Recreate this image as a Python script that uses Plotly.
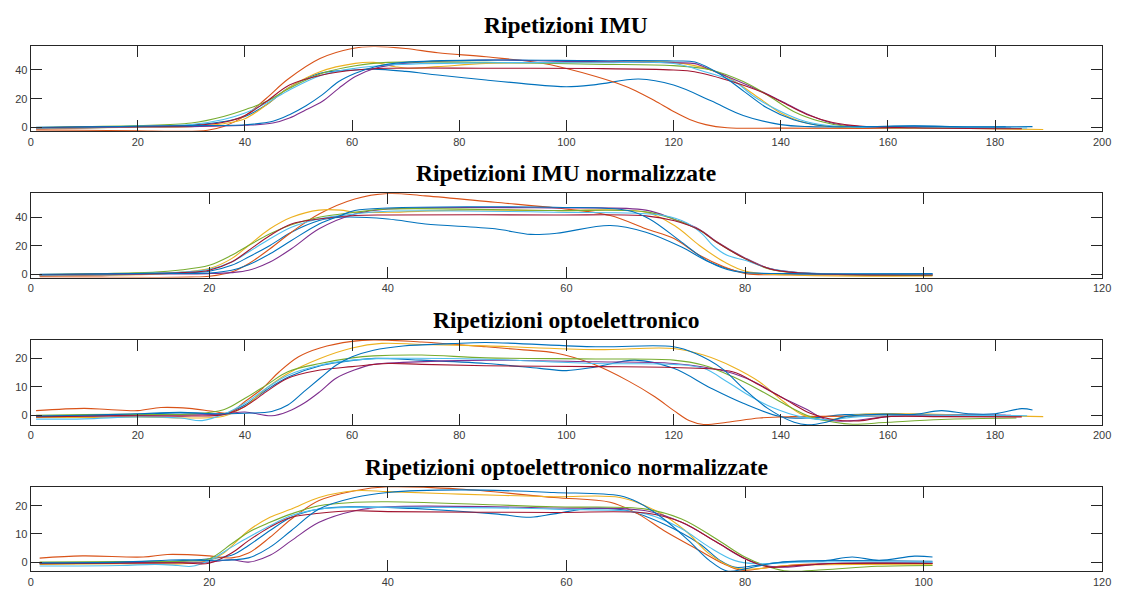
import plotly.graph_objects as go

# ---------------------------------------------------------------------------
# Repetition curves (knots of each smooth trace)
# ---------------------------------------------------------------------------
TITLES = [
    "Ripetizioni IMU",
    "Ripetizioni IMU normalizzate",
    "Ripetizioni optoelettronico",
    "Ripetizioni optoelettronico normalizzate",
]

# MATLAB default colour order, one per repetition
REP_NAMES = ["rip1", "rip2", "rip3", "rip4", "rip5", "rip6", "rip7", "rip8"]
REP_COLORS = ["#0072BD", "#D95319", "#EDB120", "#7E2F8E",
              "#77AC30", "#4DBEEE", "#A2142F", "#0072BD"]

# --- IMU, raw samples -------------------------------------------------------
imu_r1_x = [1, 10, 20, 30, 36, 40, 44, 48, 54, 60.6, 64, 70, 76, 85, 92, 100, 105.5, 113.5, 120, 127, 133, 140, 145.4, 155, 165, 175, 182]
imu_r1_y = [-1.0, -0.5, 0.3, 1.5, 4.0, 7.6, 15.7, 27.2, 37.7, 40.0, 40.6, 39.0, 36.5, 33.0, 30.5, 28.3, 29.8, 33.7, 29.5, 18.5, 8.3, 1.9, 0.5, 0.3, 0.8, 0.2, 0.3]
imu_r2_x = [1, 10, 20, 28, 33, 36, 40, 44, 48, 54, 60, 64, 70, 76, 85, 95, 100, 105.5, 110, 113, 116.5, 120, 123, 126, 130, 140, 160, 185]
imu_r2_y = [-1.8, -2.0, -2.5, -2.8, -2.0, 0.5, 8.0, 20.3, 33.5, 48.0, 55.0, 56.4, 55.0, 52.0, 49.2, 45.0, 41.0, 35.4, 30.0, 25.4, 18.5, 11.1, 5.5, 1.9, -0.3, -0.6, -0.8, -0.8]
imu_r3_x = [1, 10, 20, 30, 36, 40, 44, 48, 54, 60.6, 64, 68, 70.4, 76, 85, 100, 110, 120, 127, 131, 136, 140, 143.6, 148.5, 160, 175, 189]
imu_r3_y = [-0.8, -0.5, 0.0, 0.5, 2.5, 6.0, 15.7, 27.2, 38.8, 44.6, 45.3, 42.3, 41.2, 42.3, 44.6, 45.0, 45.5, 45.3, 40.0, 33.0, 20.3, 10.0, 4.2, 0.7, -0.2, -0.8, -1.5]
imu_r4_x = [1, 10, 20, 30, 40, 45.2, 48.3, 51.4, 54.4, 57.5, 60.6, 64.3, 69.8, 85, 100, 120, 124, 127, 130, 135, 140, 144.8, 149.7, 154.7, 165, 183]
imu_r4_y = [-0.5, -0.3, 0.2, 0.5, 1.4, 3.0, 6.5, 12.3, 18.0, 27.2, 35.4, 41.2, 44.6, 46.9, 46.0, 45.0, 44.4, 40.0, 35.5, 27.5, 18.5, 9.5, 2.8, 0.6, 0.0, -0.5]
imu_r5_x = [1, 10, 20, 30, 36, 40, 44, 48.3, 54.4, 60.6, 66.7, 85, 105, 120, 127, 133, 137.5, 142.4, 147.3, 152.2, 160, 184]
imu_r5_y = [-0.2, 0.5, 1.2, 3.0, 7.6, 12.3, 18.0, 27.2, 37.7, 43.0, 45.3, 45.3, 44.0, 43.0, 40.0, 31.9, 22.6, 11.1, 4.2, 0.7, 0.0, -0.8]
imu_r6_x = [1, 10, 20, 30, 36, 40, 44, 48.3, 54.4, 60.6, 66.7, 85, 105, 120, 125.8, 131.3, 135, 138.7, 143.6, 148.5, 154.7, 170, 186]
imu_r6_y = [-0.6, 0.0, 0.8, 2.0, 5.5, 10.0, 16.9, 26.1, 36.5, 41.2, 43.5, 45.0, 45.0, 44.5, 38.8, 31.9, 21.5, 13.4, 5.3, 1.4, 0.0, -0.3, -0.5]
imu_r7_x = [1, 10, 20, 30, 36, 40, 44, 48.3, 54.4, 60.6, 66.7, 85, 105, 120, 123.9, 131.3, 136.2, 141.2, 145.4, 149.7, 154.7, 165, 185]
imu_r7_y = [-0.3, 0.2, 0.6, 1.2, 3.5, 8.3, 18.0, 29.5, 36.5, 40.0, 41.2, 41.2, 41.0, 40.0, 38.8, 31.5, 25.0, 15.8, 8.2, 3.3, 0.8, -0.3, -1.0]
imu_r8_x = [1, 10, 20, 30, 40, 45.2, 48.3, 51.4, 54.4, 57.5, 60.6, 64.3, 69.8, 85, 105, 120, 124, 128.9, 133.2, 137.5, 142.4, 148.5, 155, 165, 175, 187]
imu_r8_y = [0.0, 0.3, 0.7, 1.2, 1.8, 4.2, 8.8, 15.0, 22.6, 31.9, 37.7, 42.3, 45.3, 46.9, 46.5, 46.3, 45.5, 36.5, 24.9, 13.4, 5.3, 0.7, 0.5, 1.0, 0.3, 0.5]

# --- IMU, time-normalised ---------------------------------------------------
imun_r1_x = [1, 8, 14, 20, 22.5, 24.4, 26.8, 29.2, 32.3, 34.7, 40, 44.2, 52, 56, 58.9, 64.9, 68.9, 72.9, 76, 79.6, 82.8, 90, 101]
imun_r1_y = [-1.0, -0.5, 0.3, 2.1, 6.3, 12.1, 20.2, 29.5, 37.7, 40.0, 38.8, 35.3, 31.9, 28.0, 28.8, 34.2, 29.5, 19.1, 8.6, 1.6, 0.5, 0.3, 0.3]
imun_r2_x = [1, 8, 14, 18, 20, 22.5, 24.4, 26.8, 29.2, 32.3, 36.3, 40, 44.2, 52, 58.9, 64.9, 68.9, 72.1, 74.9, 77.7, 80.1, 85, 101]
imun_r2_y = [-1.8, -2.0, -2.2, -2.0, -1.4, 1.6, 7.4, 17.9, 29.5, 42.3, 52.8, 56.7, 55.0, 50.5, 46.5, 41.2, 31.9, 24.9, 13.3, 5.1, 0.5, -0.3, -0.5]
imun_r3_x = [1, 8, 14, 17, 20, 22.5, 24.4, 26.8, 29.2, 32.3, 34.7, 36.3, 40, 48, 58.6, 68.9, 72.1, 74.9, 77.7, 80.1, 85, 101]
imun_r3_y = [-0.8, -0.5, 0.0, 1.5, 4.0, 11.0, 20.2, 31.9, 40.0, 45.0, 45.0, 43.5, 43.5, 45.0, 44.7, 43.5, 34.2, 20.2, 8.6, 2.1, -0.5, -1.2]
imun_r4_x = [1, 8, 14, 20, 22.5, 24.4, 26.8, 29.2, 32.3, 36.3, 40, 58.6, 68.9, 72.1, 74.9, 76.8, 80, 82.8, 86, 101]
imun_r4_y = [-0.5, -0.3, 0.2, 0.5, 1.2, 2.8, 8.6, 17.9, 31.9, 42.3, 45.8, 46.5, 45.0, 38.5, 31.5, 23.0, 11.5, 4.0, 1.2, -0.3]
imun_r5_x = [1, 8, 14, 16.5, 20, 22.5, 24.4, 26.8, 29.2, 32.3, 36.3, 40, 58.6, 68.9, 72.1, 74.9, 76.8, 80, 82.8, 86, 101]
imun_r5_y = [-0.2, 0.5, 1.5, 2.8, 6.3, 13.3, 20.2, 28.4, 34.7, 40.0, 43.5, 45.8, 44.7, 43.8, 38.5, 31.0, 22.6, 11.0, 3.5, 1.0, -0.8]
imun_r6_x = [1, 8, 14, 17, 20, 22.5, 24.4, 26.8, 29.2, 32.3, 36.3, 40, 58.6, 70.9, 73.5, 75.2, 76.4, 78, 80, 82.8, 86, 95, 101]
imun_r6_y = [-0.6, 0.0, 0.8, 1.5, 3.5, 8.6, 15.6, 24.9, 33.0, 38.8, 42.3, 44.2, 43.5, 41.2, 36.0, 28.4, 20.2, 13.3, 9.8, 4.0, 1.2, 0.2, 0.0]
imun_r7_x = [1, 8, 14, 17, 20, 22.5, 24.4, 26.8, 29.2, 32.3, 36.3, 40, 58.6, 68.9, 72.1, 74.9, 76.8, 80, 82.8, 86, 101]
imun_r7_y = [-0.3, 0.2, 0.6, 1.2, 2.8, 8.6, 16.7, 27.2, 35.3, 38.8, 41.2, 41.6, 41.6, 41.0, 37.5, 31.0, 22.6, 11.0, 3.8, 1.0, -0.5]
imun_r8_x = [1, 8, 14, 20, 22.5, 24.4, 26.8, 29.2, 32.3, 34.7, 36.3, 40, 58.6, 66.9, 69.3, 72.9, 76, 78.8, 85, 101]
imun_r8_y = [0.0, 0.3, 0.7, 0.9, 2.8, 6.7, 14.4, 23.7, 35.3, 41.2, 44.7, 46.5, 47.0, 44.7, 38.8, 22.6, 8.6, 2.1, 0.5, 0.5]

# --- Optoelectronic, raw samples -------------------------------------------
opt_r1_x = [1, 10, 20, 27, 32, 36, 40, 44, 48.3, 54.4, 60.6, 64.3, 72.9, 85, 95, 100, 105.5, 112.8, 120, 127, 133, 140, 145.4, 152, 160, 182]
opt_r1_y = [-0.5, -0.3, 0.3, 0.8, 0.7, 0.5, 3.6, 8.9, 13.6, 17.6, 19.4, 20.0, 19.4, 18.2, 16.5, 15.7, 17.0, 19.4, 16.5, 9.5, 4.2, -0.5, -1.0, 0.2, 0.3, 0.0]
opt_r2_x = [1, 10, 14.4, 20, 24.3, 29.6, 34.2, 37, 40, 43.3, 46.4, 50, 54, 60, 64, 73, 85, 92, 98, 105, 111.6, 116.5, 120, 123, 125.6, 130, 136, 142, 160, 185]
opt_r2_y = [1.6, 2.4, 2.0, 1.6, 2.7, 2.4, 1.3, 0.8, 4.8, 9.5, 15.3, 20.6, 23.7, 26.0, 26.5, 25.8, 24.1, 23.0, 21.9, 18.0, 12.0, 6.5, 1.7, -2.0, -3.3, -2.5, -1.0, -0.5, -0.3, -0.3]
opt_r3_x = [1, 10, 20, 30, 36, 40, 44, 48, 54, 60, 65.5, 73, 85, 105.5, 120, 125.6, 131, 136, 140.5, 144, 148.5, 154.6, 165, 175, 189]
opt_r3_y = [-0.8, -0.8, -0.6, -1.0, -0.4, 3.1, 9.5, 14.7, 20.0, 23.7, 25.3, 24.9, 24.4, 23.1, 23.5, 21.2, 17.1, 11.8, 4.8, 0.2, -1.6, 0.2, 0.5, 0.0, -0.5]
opt_r4_x = [1, 10, 20, 30, 36, 40, 45, 48, 51, 54, 57, 60.4, 64, 69.5, 85, 105.5, 120, 130, 135, 140, 145, 148.5, 153, 160, 170, 183]
opt_r4_y = [-0.3, -0.2, 0.0, 0.1, 0.4, 1.1, -0.2, 1.3, 4.2, 8.3, 13.0, 15.9, 17.9, 18.6, 19.4, 18.8, 18.2, 15.3, 11.8, 6.5, 1.9, -1.6, -2.0, -0.5, 0.0, 0.0]
opt_r5_x = [1, 10, 20, 30, 36, 40, 44, 48, 54, 60, 64, 73, 85, 105.5, 120, 125.6, 131, 136, 141, 145.5, 150, 153.4, 160, 170, 184]
opt_r5_y = [0.0, 0.2, 0.3, 0.4, 1.9, 6.0, 10.6, 15.3, 18.2, 20.2, 20.9, 21.2, 20.2, 19.8, 19.4, 17.6, 13.6, 8.9, 3.6, -0.5, -2.5, -3.2, -2.5, -1.5, -1.0]
opt_r6_x = [1, 10, 20, 28, 32, 36, 40, 44, 48, 54, 60, 66.7, 85, 105.5, 120, 125.6, 130, 134.5, 138.7, 143.6, 148.5, 154.7, 165, 186]
opt_r6_y = [-1.4, -1.3, -0.6, -1.0, -1.9, 0.3, 4.2, 9.5, 14.1, 17.6, 19.4, 20.0, 19.7, 18.2, 17.9, 16.5, 11.8, 6.5, 2.5, -0.5, -1.6, -0.5, 0.0, -0.2]
opt_r7_x = [1, 10, 20, 30, 36, 40, 44, 48, 54, 60, 66.7, 73, 85, 105.5, 120, 131, 136, 141, 145.5, 150, 154.6, 160, 170, 185]
opt_r7_y = [-0.6, -0.4, -0.2, -0.3, 0.2, 3.1, 8.3, 13.0, 15.9, 17.1, 18.2, 17.9, 17.4, 17.1, 16.8, 15.3, 10.6, 5.4, 0.7, -1.6, -2.0, -0.5, -0.5, -0.6]
opt_r8_x = [1, 10, 20, 28, 34, 40, 45, 48, 51, 54, 57, 60, 64, 69.5, 78.5, 85, 105.5, 120, 124, 129, 133, 137.5, 142.5, 145, 148.5, 152, 160, 165, 170, 175, 180, 185, 187]
opt_r8_y = [-0.3, 0.0, 0.5, 1.0, 0.5, 0.7, 1.3, 3.6, 8.3, 13.0, 17.6, 20.6, 22.9, 24.4, 25.2, 25.6, 24.1, 24.1, 21.8, 16.5, 9.5, 2.5, -2.5, -3.4, -2.5, -0.5, 0.4, 0.3, 1.6, 0.5, 0.5, 2.3, 1.8]

# --- Optoelectronic, time-normalised ---------------------------------------
optn_r1_x = [1, 10, 17, 20, 22.5, 24.4, 26.8, 29.2, 32.3, 36.3, 40, 52, 56, 58.6, 62.9, 66.9, 70.9, 74.9, 77.2, 78.8, 81.2, 84.8, 101]
optn_r1_y = [-0.5, -0.3, 0.5, 1.2, 2.4, 5.9, 11.2, 15.9, 18.8, 19.6, 19.4, 17.1, 15.9, 17.1, 19.1, 18.2, 13.5, 6.5, 0.6, -1.8, -1.2, 0.2, 0.3]
optn_r2_x = [1, 5.8, 12.6, 15.3, 20, 22.5, 24.4, 26.8, 29.2, 32.3, 36.3, 40, 48, 58.6, 64.9, 68, 70.9, 74.9, 77.6, 79.6, 82.8, 86.8, 101]
optn_r2_y = [1.4, 2.2, 1.8, 2.7, 2.2, 1.5, 3.2, 8.8, 15.3, 21.8, 25.3, 26.7, 25.9, 22.9, 21.2, 17.1, 11.2, 4.1, -0.6, -2.9, -1.8, -0.8, -0.5]
optn_r3_x = [1, 10, 17, 20, 21.5, 24.4, 26.8, 29.2, 32.3, 36.3, 40, 48, 58.6, 66, 70, 73.3, 76, 78.8, 81.2, 84.8, 101]
optn_r3_y = [-0.8, -0.6, -0.6, 0.6, 2.9, 11.2, 15.9, 18.8, 22.9, 25.3, 25.0, 24.1, 23.2, 22.9, 18.2, 11.2, 2.9, -2.0, -2.4, -1.2, -1.0]
optn_r4_x = [1, 10, 17, 20, 22.5, 24.4, 26.8, 29.2, 32.3, 36.3, 40, 58.6, 68.9, 72.9, 76.8, 80, 82.8, 84.8, 88.8, 101]
optn_r4_y = [-0.3, -0.2, 0.0, 0.0, 0.8, 0.0, 2.4, 7.6, 14.1, 18.2, 19.6, 19.2, 18.2, 14.1, 7.1, 1.2, -1.5, -1.8, -0.6, -0.3]
optn_r5_x = [1, 10, 17, 20, 22.5, 24.4, 26.8, 29.2, 32.3, 36.3, 40, 58.6, 68.9, 72.9, 76.8, 80, 82.8, 84.8, 88.8, 94.8, 101]
optn_r5_y = [0.0, 0.2, 0.3, 1.2, 6.5, 10.6, 14.1, 17.1, 20.0, 21.2, 21.4, 19.6, 18.8, 15.3, 8.2, 1.8, -1.8, -3.2, -2.7, -1.5, -1.2]
optn_r6_x = [1, 10, 14, 16.5, 18, 20, 22.5, 24.4, 26.8, 29.2, 32.3, 36.3, 58.6, 68.9, 72.9, 76, 78.8, 81.2, 86, 101]
optn_r6_y = [-1.4, -1.2, -0.8, -1.2, -1.5, 0.6, 5.3, 8.8, 12.9, 16.5, 18.8, 19.4, 18.8, 17.1, 11.8, 5.3, 0.6, -0.6, 0.0, 0.0]
optn_r7_x = [1, 10, 17, 20, 22.5, 24.4, 26.8, 29.2, 32.3, 36.3, 40, 58.6, 68.9, 72.9, 76.8, 80.4, 82.8, 84.8, 90, 101]
optn_r7_y = [-0.6, -0.4, -0.3, -0.4, 3.2, 7.6, 12.4, 15.9, 17.3, 18.2, 17.9, 17.6, 17.4, 14.1, 7.1, 0.6, -1.8, -1.5, -0.5, -0.5]
optn_r8_x = [1, 10, 17, 20, 24.4, 26.8, 29.2, 32.3, 36.3, 40, 48, 58.6, 66, 68, 70.9, 73.7, 76, 78, 80, 82.8, 86, 89, 92, 95, 99, 101]
optn_r8_y = [-0.3, 0.0, 0.8, 0.6, 1.5, 5.3, 11.2, 18.8, 22.9, 24.7, 25.6, 24.7, 23.5, 21.2, 15.3, 7.6, 0.6, -3.2, -2.4, -0.6, 0.3, 0.5, 1.8, 0.6, 2.1, 1.8]

PANELS = [
    [(imu_r1_x, imu_r1_y), (imu_r2_x, imu_r2_y), (imu_r3_x, imu_r3_y), (imu_r4_x, imu_r4_y),
     (imu_r5_x, imu_r5_y), (imu_r6_x, imu_r6_y), (imu_r7_x, imu_r7_y), (imu_r8_x, imu_r8_y)],
    [(imun_r1_x, imun_r1_y), (imun_r2_x, imun_r2_y), (imun_r3_x, imun_r3_y), (imun_r4_x, imun_r4_y),
     (imun_r5_x, imun_r5_y), (imun_r6_x, imun_r6_y), (imun_r7_x, imun_r7_y), (imun_r8_x, imun_r8_y)],
    [(opt_r1_x, opt_r1_y), (opt_r2_x, opt_r2_y), (opt_r3_x, opt_r3_y), (opt_r4_x, opt_r4_y),
     (opt_r5_x, opt_r5_y), (opt_r6_x, opt_r6_y), (opt_r7_x, opt_r7_y), (opt_r8_x, opt_r8_y)],
    [(optn_r1_x, optn_r1_y), (optn_r2_x, optn_r2_y), (optn_r3_x, optn_r3_y), (optn_r4_x, optn_r4_y),
     (optn_r5_x, optn_r5_y), (optn_r6_x, optn_r6_y), (optn_r7_x, optn_r7_y), (optn_r8_x, optn_r8_y)],
]

X_RANGES = [[0, 200], [0, 120], [0, 200], [0, 120]]
Y_RANGES = [[-2.8, 56.4], [-2.3, 56.8], [-3.5, 26.5], [-3.3, 26.7]]
Y_TICKS = [[0, 20, 40], [0, 20, 40], [0, 10, 20], [0, 10, 20]]

# ---------------------------------------------------------------------------
# Layout geometry (pixels of a 1125 x 590 page)
# ---------------------------------------------------------------------------
W, H = 1125, 590
AX_LEFT, AX_RIGHT = 28, 1111
AX_TOPS = [46.7, 194.3, 341.7, 489.3]
AX_BOTTOMS = [132.0, 279.0, 427.3, 574.3]
TITLE_Y = [25, 174, 321.5, 469]

AXIS_COLOR = "#262626"
TICK_FONT = dict(family="Liberation Sans, Arial, sans-serif", size=11, color="#3a3a3a")

fig = go.Figure()
layout = dict(
    width=W, height=H,
    margin=dict(l=0, r=0, t=0, b=0),
    paper_bgcolor="white", plot_bgcolor="white",
    showlegend=False,
    annotations=[],
)

for i, series in enumerate(PANELS):
    n = "" if i == 0 else str(i + 1)
    xa, ya = "x" + n, "y" + n
    for (xs, ys), name, color in zip(series, REP_NAMES, REP_COLORS):
        fig.add_trace(go.Scatter(
            x=xs, y=ys, mode="lines", name=name,
            line=dict(color=color, width=1.1, shape="spline", smoothing=1.0),
            xaxis=xa, yaxis=ya, hoverinfo="skip",
        ))
    dx = X_RANGES[i][1]
    layout["xaxis" + n] = dict(
        domain=[AX_LEFT / W, AX_RIGHT / W],
        range=X_RANGES[i],
        tickvals=list(range(0, dx + 1, 20)),
        ticks="inside", ticklen=11, tickwidth=1, tickcolor=AXIS_COLOR,
        showline=True, linecolor=AXIS_COLOR, linewidth=1, mirror="ticks",
        showgrid=False, zeroline=False, tickfont=TICK_FONT,
        anchor=ya, fixedrange=True,
    )
    layout["yaxis" + n] = dict(
        domain=[1 - AX_BOTTOMS[i] / H, 1 - AX_TOPS[i] / H],
        range=Y_RANGES[i],
        tickvals=Y_TICKS[i],
        ticks="inside", ticklen=11, tickwidth=1, tickcolor=AXIS_COLOR,
        showline=True, linecolor=AXIS_COLOR, linewidth=1, mirror="ticks",
        showgrid=False, zeroline=False, tickfont=TICK_FONT,
        anchor=xa, fixedrange=True,
    )
    layout["annotations"].append(dict(
        text="<b>%s</b>" % TITLES[i],
        xref="paper", yref="paper",
        x=(AX_LEFT + AX_RIGHT) / 2 / W, y=1 - TITLE_Y[i] / H,
        xanchor="center", yanchor="middle", showarrow=False,
        font=dict(family="Liberation Serif, Times New Roman, serif", size=23.5, color="black"),
    ))

fig.update_layout(**layout)
fig.write_html("out.html")
